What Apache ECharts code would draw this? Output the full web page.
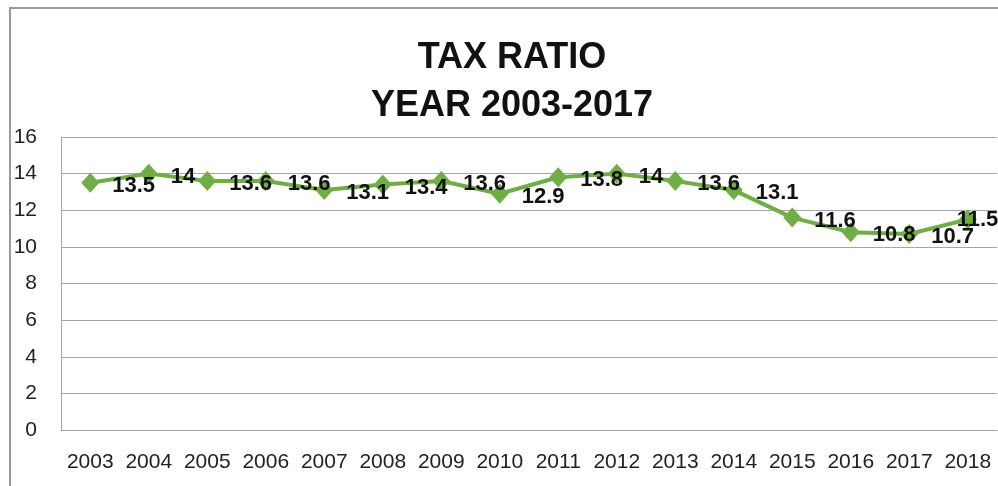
<!DOCTYPE html>
<html>
<head>
<meta charset="utf-8">
<script src="https://cdn.jsdelivr.net/npm/echarts@6/dist/echarts.min.js"></script>
<style>
  html, body { margin: 0; padding: 0; background: #fff; }
  #chart { width: 998px; height: 486px; }
</style>
</head>
<body>
<div id="chart"></div>
<script>
// data
const years = ['2003', '2004', '2005', '2006', '2007', '2008', '2009', '2010',
               '2011', '2012', '2013', '2014', '2015', '2016', '2017', '2018'];
const taxRatio = [13.5, 14, 13.6, 13.6, 13.1, 13.4, 13.6, 12.9,
                  13.8, 14, 13.6, 13.1, 11.6, 10.8, 10.7, 11.5];
const yTicks = { min: 0, max: 16, step: 2 };

const chart = echarts.init(document.getElementById('chart'));

// the last label sits on top of its point, like Excel pushed it back inside
const seriesData = taxRatio.map(function (v, i) {
    if (i === taxRatio.length - 1) {
        return { value: v, label: { offset: [-33, 1] } };
    }
    return v;
});

const option = {
    animation: false,
    title: {
        text: 'TAX RATIO\nYEAR 2003-2017',
        left: 507,
        textAlign: 'center',
        top: 29,
        textStyle: {
            fontFamily: 'Liberation Sans',
            fontWeight: 'bold',
            fontSize: 36,
            lineHeight: 48,
            color: '#111'
        }
    },
    graphic: [{
        type: 'rect',
        shape: { x: 10, y: 8, width: 1010, height: 520 },
        style: { fill: 'none', stroke: '#9a9a9a', lineWidth: 2 },
        silent: true
    }],
    grid: {
        left: 61,
        right: 1,
        top: 137,
        bottom: 56
    },
    xAxis: {
        type: 'category',
        data: years,
        boundaryGap: true,
        axisLine: { show: true, lineStyle: { color: '#a6a6a6', width: 1 } },
        axisTick: { show: false },
        axisLabel: {
            interval: 0,
            margin: 22,
            fontFamily: 'Liberation Sans',
            fontSize: 21,
            color: '#222'
        }
    },
    yAxis: {
        type: 'value',
        min: yTicks.min,
        max: yTicks.max,
        interval: yTicks.step,
        axisLine: { show: true, lineStyle: { color: '#a6a6a6', width: 1 } },
        axisTick: { show: false },
        splitLine: { lineStyle: { color: '#a6a6a6', width: 1 } },
        axisLabel: {
            margin: 24,
            fontFamily: 'Liberation Sans',
            fontSize: 21,
            color: '#222'
        }
    },
    series: [{
        name: 'Tax ratio',
        type: 'line',
        data: seriesData,
        symbol: 'diamond',
        symbolSize: [18, 20],
        lineStyle: { color: '#70ad47', width: 4 },
        itemStyle: { color: '#70ad47' },
        label: {
            show: true,
            position: 'right',
            distance: 13,
            offset: [0, 3],
            fontFamily: 'Liberation Sans',
            fontWeight: 'bold',
            fontSize: 22,
            color: '#111'
        }
    }]
};

chart.setOption(option);
</script>
</body>
</html>
